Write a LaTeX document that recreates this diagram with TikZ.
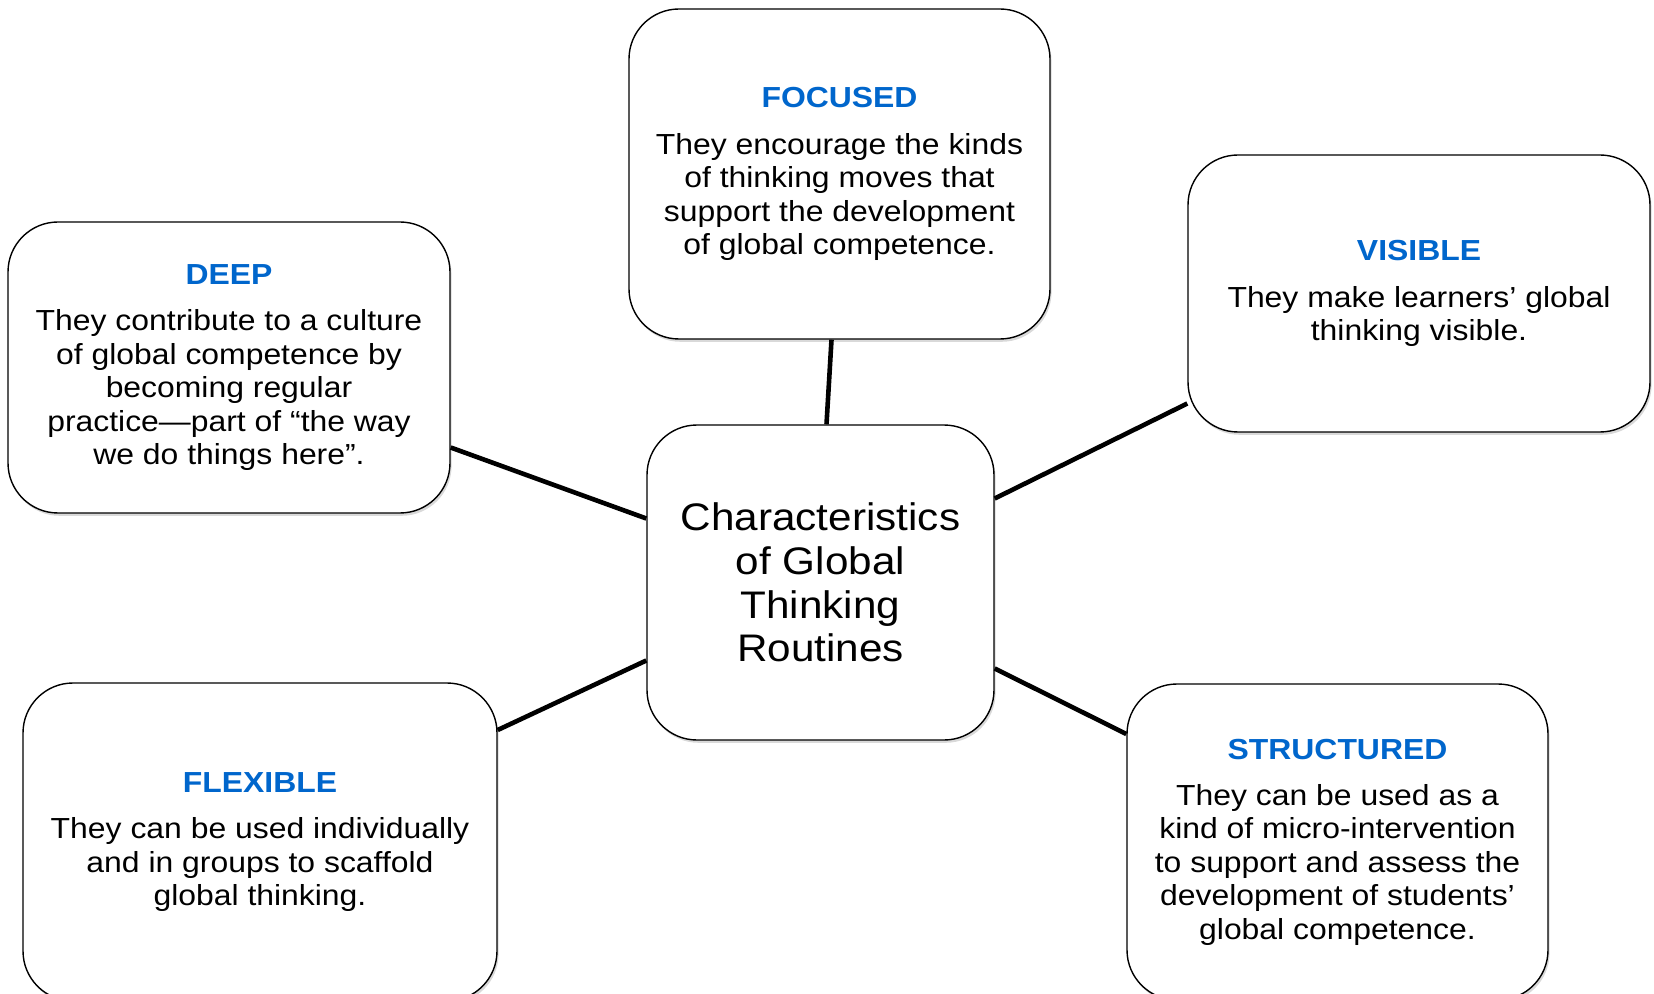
\documentclass[tikz,border=0pt]{standalone}
\usepackage{fontspec}
\setmainfont[FakeStretch=1.1]{Liberation Sans}
\usetikzlibrary{shadows}
\definecolor{headblue}{RGB}{0,102,204}
\newcommand{\cardtitle}[1]{{\bfseries\color{headblue}#1}\\[6.5pt]}
\tikzset{
  card/.style={draw, line width=0.7pt, rounded corners=25pt, fill=white, align=center,
    inner sep=0pt, font=\fontsize{14.5}{16.7}\selectfont,
    drop shadow={shadow xshift=0.8pt, shadow yshift=-1.4pt, opacity=0.3}},
  hub/.style={card, font=\fontsize{19.2}{21.8}\selectfont},
  link/.style={line width=2.3pt}
}
\begin{document}
\begin{tikzpicture}[x=0.5pt,y=-0.5pt]
  \useasboundingbox (0,0) rectangle (1654,994);
  \clip (0,0) rectangle (1654,994);
  \node[card, minimum width=210.5pt, minimum height=165pt] (focused) at (839.5,174)
    {\cardtitle{FOCUSED}They encourage the kinds\\of thinking moves that\\support the development\\of global competence.};
  \node[hub, minimum width=173.5pt, minimum height=157.5pt] (ctr) at (820.5,582.5)
    {Characteristics\\of Global\\Thinking\\Routines};
  \node[card, minimum width=231pt, minimum height=138.5pt] (visible) at (1419,293.5)
    {\cardtitle{VISIBLE}They make learners’ global\\thinking visible.};
  \node[card, minimum width=221pt, minimum height=145.5pt] (deep) at (229,367.5)
    {\cardtitle{DEEP}They contribute to a culture\\of global competence by\\becoming regular\\practice—part of “the way\\we do things here”.};
  \node[card, minimum width=237pt, minimum height=159pt] (flexible) at (260,842)
    {\cardtitle{FLEXIBLE}They can be used individually\\and in groups to scaffold\\global thinking.};
  \node[card, minimum width=210.5pt, minimum height=158pt] (structured) at (1337.5,842)
    {\cardtitle{STRUCTURED}They can be used as a\\kind of micro-intervention\\to support and assess the\\development of students’\\global competence.};
  \draw[link] ([xshift=-4pt]focused.south) -- ([xshift=3pt]ctr.north);
  \draw[link] ([yshift=-40pt]deep.east) -- ([yshift=32pt]ctr.west);
  \draw[link] ([yshift=56pt]flexible.east) -- ([yshift=-39pt]ctr.west);
  \draw[link] ([yshift=-55pt]visible.west) -- ([yshift=42pt]ctr.east);
  \draw[link] ([yshift=54pt]structured.west) -- ([yshift=-43pt]ctr.east);
\end{tikzpicture}
\end{document}
